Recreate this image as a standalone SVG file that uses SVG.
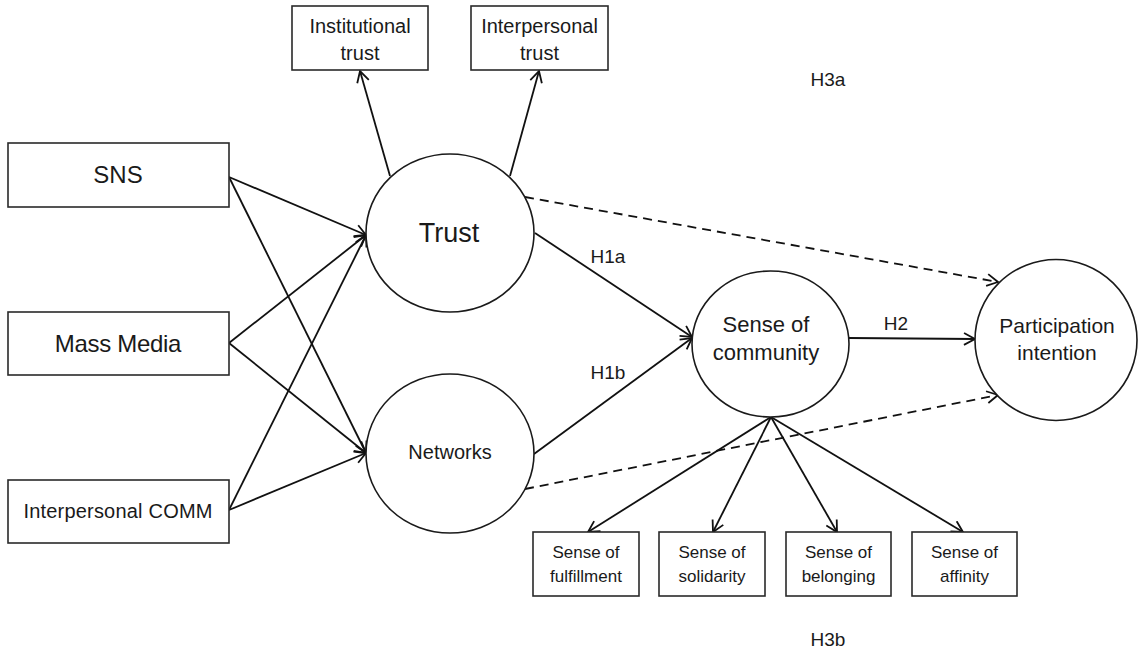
<svg xmlns="http://www.w3.org/2000/svg" width="1141" height="653" viewBox="0 0 1141 653">
<style>
text{font-family:"Liberation Sans",Arial,sans-serif;fill:#1a1a1a;text-anchor:middle}
.box{fill:#fff;stroke:#2a2a2a;stroke-width:1.6}
.ell{fill:#fff;stroke:#1a1a1a;stroke-width:1.6}
.ln{stroke:#111;stroke-width:1.8;fill:none;marker-end:url(#arr)}
.dash{stroke-dasharray:9 6}
</style>
<defs>
<marker id="arr" markerUnits="userSpaceOnUse" viewBox="0 0 14 14" refX="12" refY="7" markerWidth="14" markerHeight="14" orient="auto">
<path d="M1,1 L12,7 L1,13" fill="none" stroke="#111" stroke-width="1.8"/>
</marker>
</defs>
<rect width="1141" height="653" fill="#fff"/>
<g id="connectors">
<line class="ln" x1="390" y1="176" x2="360" y2="71"/>
<line class="ln" x1="510" y1="176" x2="539" y2="71"/>
<line class="ln" x1="229" y1="177" x2="366" y2="235"/>
<line class="ln" x1="229" y1="177" x2="366" y2="453"/>
<line class="ln" x1="229" y1="343" x2="366" y2="235"/>
<line class="ln" x1="229" y1="343" x2="366" y2="453"/>
<line class="ln" x1="229" y1="510" x2="366" y2="235"/>
<line class="ln" x1="229" y1="510" x2="366" y2="453"/>
<line class="ln" x1="535" y1="233" x2="692" y2="337"/>
<line class="ln" x1="534" y1="454" x2="692" y2="338"/>
<line class="ln" x1="849" y1="338" x2="975" y2="339"/>
<line class="ln dash" x1="525" y1="197" x2="998" y2="282"/>
<line class="ln dash" x1="525" y1="489" x2="998" y2="395"/>
<line class="ln" x1="771" y1="417" x2="588" y2="532"/>
<line class="ln" x1="771" y1="417" x2="713" y2="532"/>
<line class="ln" x1="771" y1="417" x2="837" y2="532"/>
<line class="ln" x1="771" y1="417" x2="963" y2="532"/>
<text x="608" y="263" font-size="19">H1a</text>
<text x="608" y="379" font-size="19">H1b</text>
<text x="896" y="330" font-size="19">H2</text>
</g>
<g id="institutional-trust"><rect class="box" x="292" y="6" width="136" height="64"/><text x="360" y="33" font-size="20">Institutional</text><text x="360" y="60" font-size="20">trust</text></g>
<g id="interpersonal-trust"><rect class="box" x="471" y="6" width="137" height="64"/><text x="539.5" y="33" font-size="20">Interpersonal</text><text x="539.5" y="60" font-size="20">trust</text></g>
<g id="sns"><rect class="box" x="8" y="143" width="221" height="64"/><text x="118" y="183" font-size="24">SNS</text></g>
<g id="mass-media"><rect class="box" x="8" y="312" width="221" height="63"/><text x="118" y="352" font-size="24" letter-spacing="-0.3">Mass Media</text></g>
<g id="interpersonal-comm"><rect class="box" x="8" y="480" width="221" height="63"/><text x="118" y="518" font-size="20" letter-spacing="0.2">Interpersonal COMM</text></g>
<g id="trust"><ellipse class="ell" cx="450" cy="233" rx="84" ry="79"/><text x="449" y="242" font-size="27">Trust</text></g>
<g id="networks"><ellipse class="ell" cx="450" cy="453.5" rx="84" ry="79.5"/><text x="450" y="459" font-size="20">Networks</text></g>
<g id="sense-of-community"><ellipse class="ell" cx="770.5" cy="344" rx="78.5" ry="73"/><text x="766" y="332" font-size="22">Sense of</text><text x="766" y="360" font-size="22">community</text></g>
<g id="participation-intention"><ellipse class="ell" cx="1056" cy="340" rx="81" ry="80.5"/><text x="1057" y="333" font-size="21">Participation</text><text x="1057" y="360" font-size="21">intention</text></g>
<g id="fulfillment"><rect class="box" x="533" y="532" width="106" height="64"/><text x="586" y="558" font-size="17">Sense of</text><text x="586" y="582" font-size="17">fulfillment</text></g>
<g id="solidarity"><rect class="box" x="659" y="532" width="106" height="64"/><text x="712" y="558" font-size="17">Sense of</text><text x="712" y="582" font-size="17">solidarity</text></g>
<g id="belonging"><rect class="box" x="786" y="532" width="105" height="64"/><text x="838.5" y="558" font-size="17">Sense of</text><text x="838.5" y="582" font-size="17">belonging</text></g>
<g id="affinity"><rect class="box" x="912" y="532" width="105" height="64"/><text x="964.5" y="558" font-size="17">Sense of</text><text x="964.5" y="582" font-size="17">affinity</text></g>
<g id="labels"><text x="828" y="86" font-size="19">H3a</text><text x="828" y="646" font-size="19">H3b</text></g>
</svg>
